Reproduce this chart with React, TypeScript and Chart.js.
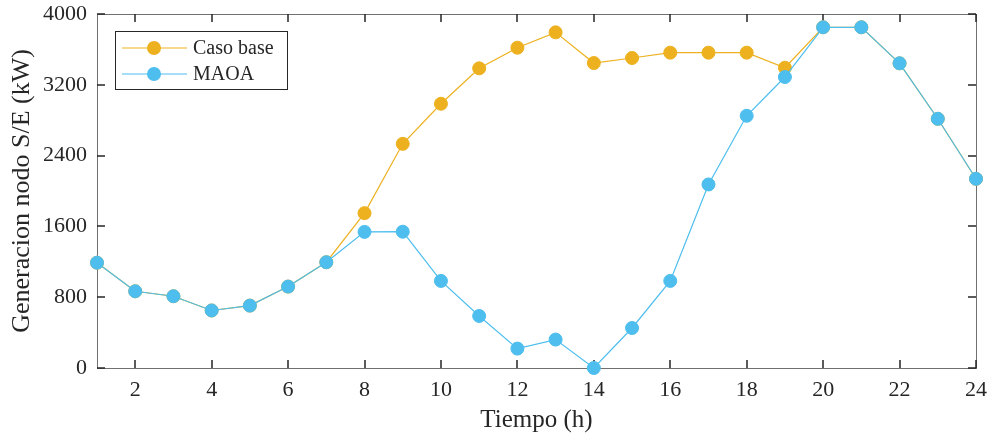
import React, { useEffect, useRef } from "react";
import { Chart, registerables } from "chart.js";

Chart.register(...registerables);

const hours = [1, 2, 3, 4, 5, 6, 7, 8, 9, 10, 11, 12, 13, 14, 15, 16, 17, 18, 19, 20, 21, 22, 23, 24];
const casoBase = [1190, 867, 811, 650, 705, 920, 1195, 1750, 2533, 2986, 3386, 3619, 3793, 3446, 3503, 3563, 3563, 3563, 3393, 3850, 3850, 3443, 2816, 2138];
const maoa = [1190, 867, 811, 650, 705, 920, 1195, 1538, 1540, 984, 588, 219, 321, 0, 452, 984, 2074, 2850, 3288, 3850, 3850, 3443, 2816, 2138];
const xTicks = [2, 4, 6, 8, 10, 12, 14, 16, 18, 20, 22, 24];
const yTicks = [0, 800, 1600, 2400, 3200, 4000];
const seriesLabels = ["Caso base", "MAOA"];
const seriesColors = ["#EDB120", "#4DBEEE"];

const FONT = "'Liberation Serif', 'Times New Roman', serif";
const TEXT = "#262626";

const boxPlugin = {
  id: "matlabBox",
  beforeDatasetsDraw(chart: any) {
    const { ctx, chartArea } = chart;
    const { left, right, top, bottom } = chartArea;
    const xs = chart.scales.x;
    const ys = chart.scales.y;
    ctx.save();
    ctx.strokeStyle = "#707070";
    ctx.lineWidth = 1;
    ctx.strokeRect(Math.round(left) + 0.5, Math.round(top) + 0.5, Math.round(right - left), Math.round(bottom - top));
    ctx.strokeStyle = TEXT;
    ctx.lineWidth = 1.5;
    const tl = 8;
    ctx.beginPath();
    for (const v of xTicks) {
      const px = Math.round(xs.getPixelForValue(v));
      ctx.moveTo(px, bottom);
      ctx.lineTo(px, bottom - tl);
      ctx.moveTo(px, top);
      ctx.lineTo(px, top + tl);
    }
    for (const v of yTicks) {
      const py = Math.round(ys.getPixelForValue(v));
      ctx.moveTo(left, py);
      ctx.lineTo(left + tl, py);
      ctx.moveTo(right, py);
      ctx.lineTo(right - tl, py);
    }
    ctx.stroke();
    ctx.restore();
  },
  afterDatasetsDraw(chart: any) {
    const { ctx, chartArea } = chart;
    const bx = chartArea.left + 18;
    const by = chartArea.top + 17;
    const bw = 172;
    const bh = 58;
    ctx.save();
    ctx.fillStyle = "#ffffff";
    ctx.fillRect(bx, by, bw, bh);
    ctx.strokeStyle = "#262626";
    ctx.lineWidth = 1;
    ctx.strokeRect(bx + 0.5, by + 0.5, bw, bh);
    ctx.font = `20px ${FONT}`;
    ctx.textBaseline = "middle";
    ctx.textAlign = "left";
    seriesLabels.forEach((lab, i) => {
      const cy = by + 17 + i * 26;
      ctx.strokeStyle = seriesColors[i];
      ctx.lineWidth = 1.2;
      ctx.beginPath();
      ctx.moveTo(bx + 7, cy);
      ctx.lineTo(bx + 72, cy);
      ctx.stroke();
      ctx.fillStyle = seriesColors[i];
      ctx.beginPath();
      ctx.arc(bx + 39, cy, 7, 0, Math.PI * 2);
      ctx.fill();
      ctx.fillStyle = TEXT;
      ctx.fillText(lab, bx + 78, cy + 1);
    });
    ctx.restore();
  },
};

export default function App() {
  const ref = useRef<HTMLCanvasElement | null>(null);
  useEffect(() => {
    document.body.style.margin = "0";
    const canvas = ref.current;
    if (!canvas) return;
    const chart = new Chart(canvas, {
      type: "line",
      data: {
        datasets: [
          {
            label: seriesLabels[0],
            data: hours.map((h, i) => ({ x: h, y: casoBase[i] })),
            borderColor: seriesColors[0],
            backgroundColor: seriesColors[0],
            borderWidth: 1.2,
            pointRadius: 6.5,
            pointBorderWidth: 1,
            pointBorderColor: seriesColors[0],
            pointBackgroundColor: seriesColors[0],
            tension: 0,
            clip: false as any,
            order: 2,
          },
          {
            label: seriesLabels[1],
            data: hours.map((h, i) => ({ x: h, y: maoa[i] })),
            borderColor: seriesColors[1],
            backgroundColor: seriesColors[1],
            borderWidth: 1.2,
            pointRadius: 6.5,
            pointBorderWidth: 1,
            pointBorderColor: seriesColors[1],
            pointBackgroundColor: seriesColors[1],
            tension: 0,
            clip: false as any,
            order: 1,
          },
        ],
      },
      options: {
        animation: false,
        responsive: false,
        maintainAspectRatio: false,
        devicePixelRatio: 1,
        layout: { padding: { top: 14, right: 12, left: 0, bottom: 0 } },
        plugins: {
          legend: { display: false },
          tooltip: { enabled: false },
        },
        scales: {
          x: {
            type: "linear",
            min: 1,
            max: 24,
            grid: { display: false, drawTicks: false },
            border: { display: false },
            afterBuildTicks: (s: any) => {
              s.ticks = xTicks.map((v) => ({ value: v }));
            },
            afterFit: (s: any) => {
              s.height = 65;
              s.paddingLeft = 0;
              s.paddingRight = 0;
            },
            ticks: {
              color: TEXT,
              font: { family: FONT, size: 22, lineHeight: 1 },
              padding: 11,
              maxRotation: 0,
              autoSkip: false,
              callback: (v: any) => String(v),
            },
            title: {
              display: true,
              text: "Tiempo (h)",
              color: TEXT,
              font: { family: FONT, size: 25, lineHeight: 1 },
              padding: { top: 0, bottom: 0 },
            },
          },
          y: {
            type: "linear",
            min: 0,
            max: 4000,
            grid: { display: false, drawTicks: false },
            border: { display: false },
            afterBuildTicks: (s: any) => {
              s.ticks = yTicks.map((v) => ({ value: v }));
            },
            afterFit: (s: any) => {
              s.width = 97;
              s.paddingTop = 0;
              s.paddingBottom = 0;
            },
            ticks: {
              color: TEXT,
              font: { family: FONT, size: 22 },
              padding: 10,
              autoSkip: false,
              callback: (v: any) => String(v),
            },
            title: {
              display: true,
              text: "Generacion nodo S/E (kW)",
              color: TEXT,
              font: { family: FONT, size: 26, lineHeight: 1 },
              padding: { top: 9, bottom: 0 },
            },
          },
        },
      },
      plugins: [boxPlugin],
    });
    return () => chart.destroy();
  }, []);
  return (
    <div style={{ position: "absolute", left: 0, top: 0, width: 988, height: 433 }}>
      <canvas ref={ref} width={988} height={433} style={{ width: 988, height: 433 }} />
    </div>
  );
}
